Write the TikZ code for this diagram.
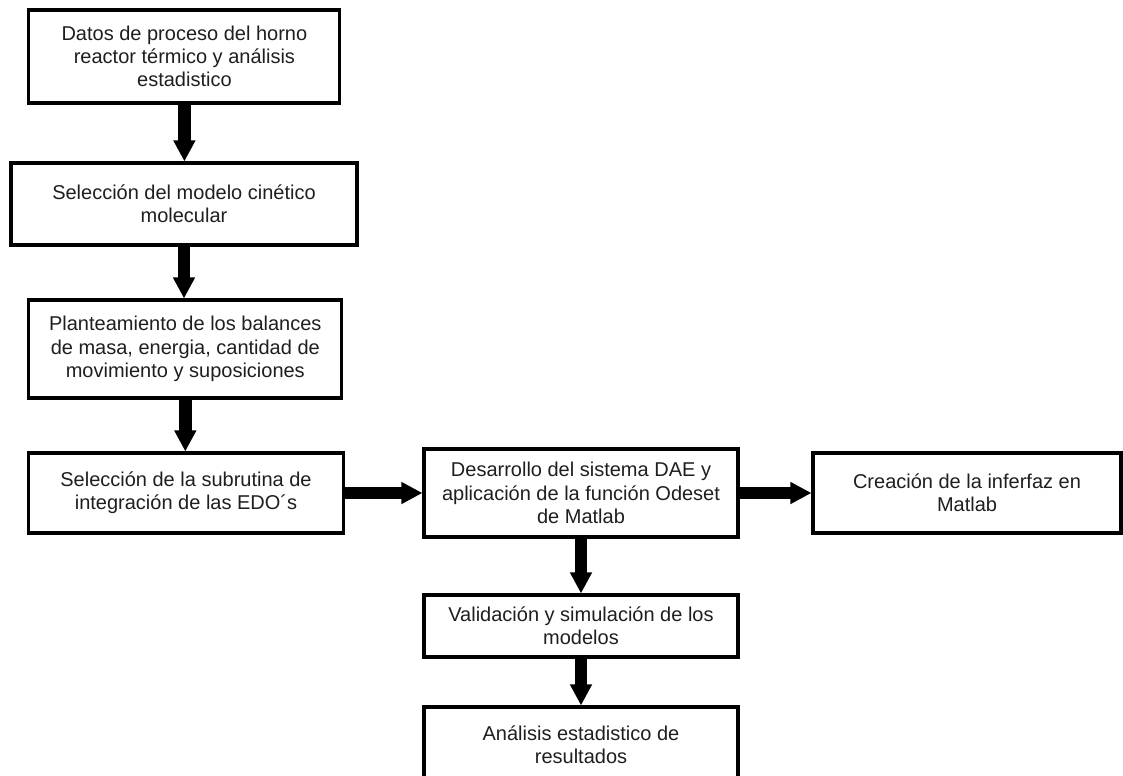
\documentclass[tikz,border=0pt]{standalone}
\usepackage{fontspec}
\setmainfont{Liberation Sans}
\usetikzlibrary{arrows.meta}
\begin{document}
\begin{tikzpicture}[x=0.75pt,y=-0.75pt,
  box/.style={draw=black, line width=2.3pt, fill=white, align=center, inner sep=0pt,
    text=black!88, font=\fontsize{15}{17.5}\selectfont},
  flow/.style={line width=9.5pt, -{Triangle[length=15.75pt,width=15.5pt]}}]
\clip (0,0) rectangle (1123,775);
\fill[white] (0,0) rectangle (1123,775);
\node[box, minimum width=311*0.75pt, minimum height=93*0.75pt] (b1) at (184.4,56.5)
  {Datos de proceso del horno\\reactor térmico y análisis\\estadistico};
\node[box, minimum width=346*0.75pt, minimum height=82*0.75pt] (b2) at (184,204)
  {Selección del modelo cinético\\molecular};
\node[box, minimum width=313*0.75pt, minimum height=98*0.75pt] (b3) at (185.3,349)
  {Planteamiento de los balances\\de masa, energia, cantidad de\\movimiento y suposiciones};
\node[box, minimum width=315*0.75pt, minimum height=80*0.75pt] (b4) at (186,493)
  {Selección de la subrutina de\\integración de las EDO´s};
\node[box, minimum width=314*0.75pt, minimum height=88*0.75pt] (b5) at (581,493)
  {Desarrollo del sistema DAE y\\aplicación de la función Odeset\\de Matlab};
\node[box, minimum width=308*0.75pt, minimum height=80*0.75pt] (b6) at (967,493)
  {Creación de la inferfaz en\\Matlab};
\node[box, minimum width=314*0.75pt, minimum height=62*0.75pt] (b7) at (581,626)
  {Validación y simulación de los\\modelos};
\node[box, minimum width=314*0.75pt, minimum height=76*0.75pt] (b8) at (581,745)
  {Análisis estadistico de\\resultados};
\draw[flow] (b1.south) -- (b1.south |- b2.north);
\draw[flow] (b2.south) -- (b2.south |- b3.north);
\draw[flow] (b3.south) -- (b3.south |- b4.north);
\draw[flow] (b4.east) -- (b5.west);
\draw[flow] (b5.east) -- (b6.west);
\draw[flow] (b5.south) -- (b7.north);
\draw[flow] (b7.south) -- (b8.north);
\end{tikzpicture}
\end{document}
